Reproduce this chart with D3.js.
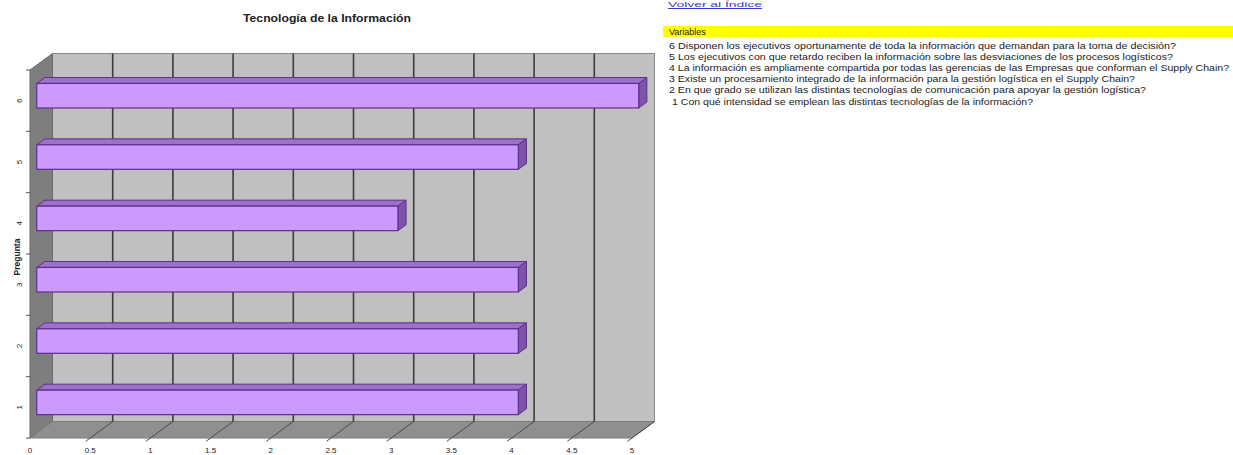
<!DOCTYPE html>
<html>
<head>
<meta charset="utf-8">
<script src="https://cdn.jsdelivr.net/npm/d3@7"></script>
<style>
  html, body { margin: 0; padding: 0; background: #fff; }
  svg { display: block; font-family: Arial, "Liberation Sans", sans-serif; }
</style>
</head>
<body>
<svg id="chart" width="1233" height="455"></svg>
<script>
// Question numbers and their average scores
const categories = ["1", "2", "3", "4", "5", "6"];
const values = [4, 4, 4, 3, 4, 5];
const xTicks = [0, 0.5, 1, 1.5, 2, 2.5, 3, 3.5, 4, 4.5, 5];
const xTickLabels = ["0", "0.5", "1", "1.5", "2", "2.5", "3", "3.5", "4", "4.5", "5"];
const chartTitle = "Tecnología de la Información";
const axisTitle = "Pregunta";
const legendTitle = "Variables";
const questions = [
  "6  Disponen los ejecutivos oportunamente de toda la información que demandan para la toma de decisión?",
  "5  Los ejecutivos con que retardo reciben la información sobre las desviaciones de los procesos logísticos?",
  "4  La información es ampliamente compartida por todas las gerencias de las Empresas que conforman el Supply Chain?",
  "3  Existe un procesamiento integrado de la información para la gestión logística en el Supply Chain?",
  "2  En que grado se utilizan las distintas tecnologías de comunicación para apoyar la gestión logística?",
  "1 Con qué intensidad se emplean las distintas tecnologías de la información?"
];
const questionEnds = [1176, 1173, 1229, 1135, 1146, 1033];

const svg = d3.select("#chart");

// 3D frame geometry: front plane plus a depth offset toward the back wall
const DX = 22.5, DY = -16.5;
const x = d3.scaleLinear().domain([0, 5]).range([30, 632]);
const y = d3.scaleBand().domain(categories).range([438, 70]).paddingInner(0.6).paddingOuter(0.3);
const yFull = d3.scaleBand().domain(categories).range([438, 70]);
const P = (v, yy, d) => [x(v) + d * DX, yy + d * DY];
const poly = pts => pts.map(p => p.join(",")).join(" ");

const yTop = 70, yBot = 438;

// Back wall
svg.append("polygon")
  .attr("points", poly([P(0, yTop, 1), P(5, yTop, 1), P(5, yBot, 1), P(0, yBot, 1)]))
  .attr("fill", "#c0c0c0").attr("stroke", "#8a8a8a").attr("stroke-width", 1);

// Left side wall
svg.append("polygon")
  .attr("points", poly([P(0, yTop, 0), P(0, yTop, 1), P(0, yBot, 1), P(0, yBot, 0)]))
  .attr("fill", "#7e7e7e").attr("stroke", "#6a6a6a").attr("stroke-width", 1);

// Floor
svg.append("polygon")
  .attr("points", poly([P(0, yBot, 0), P(0, yBot, 1), P(5, yBot, 1), P(5, yBot, 0)]))
  .attr("fill", "#8f8f8f").attr("stroke", "#7a7a7a").attr("stroke-width", 1);

// Vertical gridlines on the back wall and their continuation across the floor
const grid = svg.append("g");
xTicks.filter(t => t > 0 && t < 5).forEach(t => {
  const a = P(t, yTop, 1), b = P(t, yBot, 1);
  grid.append("line").attr("x1", a[0]).attr("y1", a[1]).attr("x2", b[0]).attr("y2", b[1])
    .attr("stroke", "#3c3c3c").attr("stroke-width", 1.6);
});
xTicks.filter(t => t > 0).forEach(t => {
  const a = P(t, yBot, 1), b = P(t, yBot, -0.2);
  grid.append("line").attr("x1", a[0]).attr("y1", a[1]).attr("x2", b[0]).attr("y2", b[1])
    .attr("stroke", "#4a4a4a").attr("stroke-width", 1);
});

// Bars as 3D boxes (front face, top face, right side)
const d0 = 0.3, d1 = 0.66;
const bars = svg.append("g");
categories.forEach((c, i) => {
  const v = values[i];
  const top = y(c), bot = y(c) + y.bandwidth();
  const g = bars.append("g");
  // top face
  g.append("polygon")
    .attr("points", poly([P(0, top, d0), P(v, top, d0), P(v, top, d1), P(0, top, d1)]))
    .attr("fill", "#9c72c9").attr("stroke", "#5e2f8c").attr("stroke-width", 1);
  // right side
  g.append("polygon")
    .attr("points", poly([P(v, top, d0), P(v, top, d1), P(v, bot, d1), P(v, bot, d0)]))
    .attr("fill", "#7d54aa").attr("stroke", "#5e2f8c").attr("stroke-width", 1);
  // front face
  const f0 = P(0, top, d0), f1 = P(v, bot, d0);
  g.append("rect")
    .attr("x", f0[0]).attr("y", f0[1])
    .attr("width", f1[0] - f0[0]).attr("height", f1[1] - f0[1])
    .attr("fill", "#cc99ff").attr("stroke", "#5e2f8c").attr("stroke-width", 1.2);
});

// Category axis: ticks at band edges on the wall's front edge and rotated labels
const yAxis = svg.append("g");
categories.concat(["end"]).forEach((c, i) => {
  const yy = i < categories.length ? yFull(c) + yFull.bandwidth() : yTop;
  yAxis.append("line").attr("x1", 26).attr("x2", 30).attr("y1", yy).attr("y2", yy)
    .attr("stroke", "#555").attr("stroke-width", 1);
});
categories.forEach(c => {
  const cy = yFull(c) + yFull.bandwidth() / 2;
  yAxis.append("text")
    .attr("transform", `translate(22,${cy}) rotate(-90)`)
    .attr("text-anchor", "middle").attr("font-size", 8).attr("fill", "#222")
    .text(c);
});
svg.append("text")
  .attr("transform", "translate(20,257) rotate(-90)")
  .attr("text-anchor", "middle").attr("font-size", 8.5).attr("font-weight", "bold").attr("fill", "#222")
  .text(axisTitle);

// Value axis labels below the floor
xTicks.forEach((t, i) => {
  svg.append("text")
    .attr("x", x(t)).attr("y", 453)
    .attr("text-anchor", "middle").attr("font-size", 8).attr("fill", "#222")
    .text(xTickLabels[i]);
});

// Title
svg.append("text")
  .attr("x", 327).attr("y", 22)
  .attr("text-anchor", "middle").attr("font-size", 10.5).attr("font-weight", "bold").attr("fill", "#222")
  .attr("textLength", 168).attr("lengthAdjust", "spacingAndGlyphs")
  .text(chartTitle);

// Right-hand panel: link, highlighted heading and question list
svg.append("text")
  .attr("x", 668).attr("y", 7)
  .attr("font-size", 7).attr("fill", "#3a3ad0")
  .attr("textLength", 94).attr("lengthAdjust", "spacingAndGlyphs")
  .text("Volver al Índice");
svg.append("line").attr("x1", 668).attr("x2", 762).attr("y1", 8.5).attr("y2", 8.5)
  .attr("stroke", "#3a3ad0").attr("stroke-width", 1);

svg.append("rect")
  .attr("x", 663).attr("y", 26).attr("width", 570).attr("height", 11)
  .attr("fill", "#ffff00");
svg.append("text")
  .attr("x", 669).attr("y", 35)
  .attr("font-size", 9).attr("fill", "#222")
  .text(legendTitle);

const legend = svg.append("g");
questions.forEach((q, i) => {
  const x0 = i === questions.length - 1 ? 672 : 669;
  legend.append("text")
    .attr("x", x0).attr("y", 48.5 + i * 11.2)
    .attr("font-size", 9).attr("fill", "#222")
    .attr("textLength", questionEnds[i] - x0).attr("lengthAdjust", "spacingAndGlyphs")
    .text(q);
});
</script>
</body>
</html>
